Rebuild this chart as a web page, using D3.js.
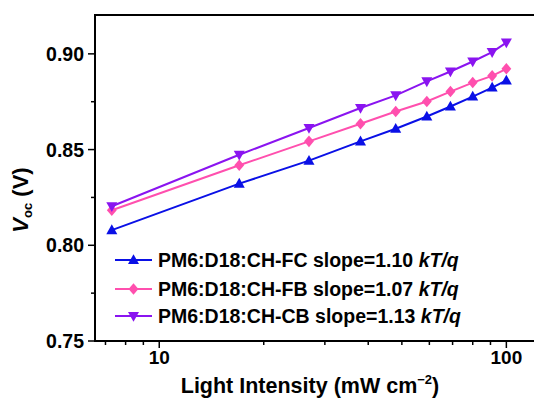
<!DOCTYPE html>
<html>
<head>
<meta charset="utf-8">
<script src="https://cdn.jsdelivr.net/npm/d3@7"></script>
<style>
  body { margin: 0; background: #fff; }
  svg { display: block; font-family: Arial, "Liberation Sans", sans-serif; }
</style>
</head>
<body>
<div id="chart"></div>
<script>
// light intensity (mW cm^-2)
const intensity = [7.3, 17, 27, 38, 48, 59, 69, 80, 91, 100];

const vocFC = [0.8079, 0.8322, 0.8442, 0.8543, 0.8609, 0.8673, 0.8725, 0.8777, 0.8824, 0.8861];
const vocFB = [0.8183, 0.8418, 0.8543, 0.8635, 0.8699, 0.8751, 0.8803, 0.8850, 0.8885, 0.8922];
const vocCB = [0.8204, 0.8473, 0.8613, 0.8717, 0.8783, 0.8856, 0.8908, 0.8960, 0.9009, 0.9059];

const seriesNames = ["PM6:D18:CH-FC", "PM6:D18:CH-FB", "PM6:D18:CH-CB"];
const slopes = ["1.10", "1.07", "1.13"];

const yTicks = [0.75, 0.80, 0.85, 0.90];
const xTicks = [10, 100];

const W = 534, H = 401;
const margin = {top: 15, right: -6, bottom: 60, left: 95};
const width = W - margin.left - margin.right;
const height = 341 - margin.top;

const colors = ["#0a10e6", "#ff4fae", "#8a14f0"];
const symbols = ["up", "diamond", "down"];
const seriesData = [vocFC, vocFB, vocCB];

const svg = d3.select("#chart").append("svg")
    .attr("width", W)
    .attr("height", H);

const g = svg.append("g")
    .attr("transform", `translate(${margin.left},${margin.top})`);

let x = d3.scaleLog().domain([6.53, 125]).range([0, width]);
let y = d3.scaleLinear().domain([0.75, 0.9203]).range([height, 0]);

// frame
g.append("rect")
    .attr("x", 0).attr("y", 0)
    .attr("width", width).attr("height", height)
    .attr("fill", "none")
    .attr("stroke", "#000")
    .attr("stroke-width", 2);

// y axis: major + minor ticks
let yMinor = [0.775, 0.825, 0.875];
g.selectAll(".yMinor").data(yMinor).enter().append("line")
    .attr("class", "yMinor")
    .attr("x1", -4).attr("x2", 0)
    .attr("y1", d => y(d)).attr("y2", d => y(d))
    .attr("stroke", "#000").attr("stroke-width", 1.5);
g.selectAll(".yMajor").data(yTicks).enter().append("line")
    .attr("class", "yMajor")
    .attr("x1", -7).attr("x2", 0)
    .attr("y1", d => y(d)).attr("y2", d => y(d))
    .attr("stroke", "#000").attr("stroke-width", 1.5);
g.selectAll(".yLabel").data(yTicks).enter().append("text")
    .attr("class", "yLabel")
    .attr("x", -11)
    .attr("y", d => y(d))
    .attr("dy", "0.36em")
    .attr("text-anchor", "end")
    .attr("font-size", 19.5)
    .attr("font-weight", "bold")
    .text(d => d3.format(".2f")(d));

// x axis: log ticks
let xMinor = [7, 8, 9, 20, 30, 40, 50, 60, 70, 80, 90];
g.selectAll(".xMinor").data(xMinor).enter().append("line")
    .attr("class", "xMinor")
    .attr("x1", d => x(d)).attr("x2", d => x(d))
    .attr("y1", height).attr("y2", height + 4)
    .attr("stroke", "#000").attr("stroke-width", 1.5);
g.selectAll(".xMajor").data(xTicks).enter().append("line")
    .attr("class", "xMajor")
    .attr("x1", d => x(d)).attr("x2", d => x(d))
    .attr("y1", height).attr("y2", height + 7)
    .attr("stroke", "#000").attr("stroke-width", 1.5);
g.selectAll(".xLabel").data(xTicks).enter().append("text")
    .attr("class", "xLabel")
    .attr("x", d => x(d))
    .attr("y", height + 23)
    .attr("text-anchor", "middle")
    .attr("font-size", 19)
    .attr("font-weight", "bold")
    .text(d => d);

// axis titles
let xt = svg.append("text")
    .attr("x", 310)
    .attr("y", 393)
    .attr("text-anchor", "middle")
    .attr("font-size", 21.5)
    .attr("font-weight", "bold");
xt.append("tspan").text("Light Intensity (mW cm");
xt.append("tspan").attr("font-size", 13).attr("dy", -9).text("\u22122");
xt.append("tspan").attr("dy", 9).text(")");

let yt = svg.append("text")
    .attr("transform", "translate(28,200) rotate(-90)")
    .attr("text-anchor", "middle")
    .attr("font-size", 22)
    .attr("font-weight", "bold");
yt.append("tspan").attr("font-style", "italic").text("V");
yt.append("tspan").attr("font-size", 13).attr("dy", 4).text("oc");
yt.append("tspan").attr("dy", -4).text(" (V)");

// marker shapes
function markerPath(type, s) {
    if (type === "up") return `M0,${-s}L${s * 0.95},${s * 0.7}L${-s * 0.95},${s * 0.7}Z`;
    if (type === "down") return `M0,${s}L${s * 0.95},${-s * 0.7}L${-s * 0.95},${-s * 0.7}Z`;
    return `M0,${-s}L${s * 0.85},0L0,${s}L${-s * 0.85},0Z`;
}

let line = d3.line()
    .x(d => x(d[0]))
    .y(d => y(d[1]));

seriesData.forEach(function (vals, i) {
    let pts = intensity.map((v, j) => [v, vals[j]]);
    g.append("path")
        .datum(pts)
        .attr("d", line)
        .attr("fill", "none")
        .attr("stroke", colors[i])
        .attr("stroke-width", 2);
    g.selectAll(".pt" + i).data(pts).enter().append("path")
        .attr("class", "pt" + i)
        .attr("transform", d => `translate(${x(d[0])},${y(d[1])})`)
        .attr("d", markerPath(symbols[i], 5.8))
        .attr("fill", colors[i]);
});

// legend
let legendY = [260, 289, 316];
let legend = svg.append("g");
seriesNames.forEach(function (name, i) {
    legend.append("line")
        .attr("x1", 115).attr("x2", 152)
        .attr("y1", legendY[i]).attr("y2", legendY[i])
        .attr("stroke", colors[i]).attr("stroke-width", 2);
    legend.append("path")
        .attr("transform", `translate(133.5,${legendY[i]})`)
        .attr("d", markerPath(symbols[i], 5.8))
        .attr("fill", colors[i]);
    let t = legend.append("text")
        .attr("x", 158)
        .attr("y", legendY[i])
        .attr("dy", "0.36em")
        .attr("font-size", 19.5)
        .attr("font-weight", "bold");
    t.append("tspan").text(name + " slope=" + slopes[i] + " ");
    t.append("tspan").attr("font-style", "italic").text("kT/q");
});
</script>
</body>
</html>
